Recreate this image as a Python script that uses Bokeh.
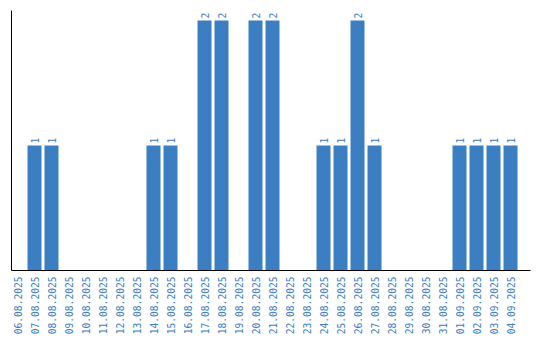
from bokeh.plotting import figure
from bokeh.models import Range1d, FixedTicker, ColumnDataSource
from bokeh.embed import file_html
from bokeh.resources import INLINE
from bokeh.core.properties import value
import math

dates = ["06.08.2025", "07.08.2025", "08.08.2025", "09.08.2025", "10.08.2025",
         "11.08.2025", "12.08.2025", "13.08.2025", "14.08.2025", "15.08.2025",
         "16.08.2025", "17.08.2025", "18.08.2025", "19.08.2025", "20.08.2025",
         "21.08.2025", "22.08.2025", "23.08.2025", "24.08.2025", "25.08.2025",
         "26.08.2025", "27.08.2025", "28.08.2025", "29.08.2025", "30.08.2025",
         "31.08.2025", "01.09.2025", "02.09.2025", "03.09.2025", "04.09.2025"]
counts = [0, 1, 1, 0, 0, 0, 0, 0, 1, 1, 0, 2, 2, 0, 2, 2, 0, 0, 1, 1, 2, 1,
          0, 0, 0, 0, 1, 1, 1, 1]

BLUE = "#3b7ec1"
FONT = "DejaVu Sans Mono"

idx = list(range(len(dates)))
src = ColumnDataSource(dict(x=idx, top=counts))
nz = [i for i in idx if counts[i] > 0]
lab = ColumnDataSource(dict(x=nz, y=[counts[i] for i in nz],
                            t=[str(counts[i]) for i in nz]))

p = figure(width=540, height=340, output_backend="svg", toolbar_location=None,
           x_range=Range1d(-0.353, 30.176), y_range=Range1d(0, 2.08),
           min_border_left=11, min_border_right=10, min_border_top=10,
           min_border_bottom=70)
p.outline_line_color = None
p.xgrid.grid_line_color = None
p.ygrid.grid_line_color = None

p.vbar(x="x", top="top", width=14 / 17, source=src, fill_color=BLUE,
       line_color=None)
p.text(x="x", y="y", text="t", source=lab, angle=math.pi / 2,
       text_align="left", text_baseline="middle", y_offset=-2,
       text_color=BLUE, text_font=value(FONT), text_font_size="9.6px")

xa = p.xaxis[0]
xa.ticker = FixedTicker(ticks=idx)
xa.major_label_overrides = {i: d for i, d in enumerate(dates)}
xa.major_label_orientation = math.pi / 2
xa.major_tick_line_color = None
xa.minor_tick_line_color = None
xa.major_tick_out = 0
xa.major_tick_in = 0
xa.major_label_standoff = 6
xa.major_label_text_color = BLUE
xa.major_label_text_font = FONT
xa.major_label_text_font_size = "9.6px"
xa.axis_line_color = "black"

ya = p.yaxis[0]
ya.ticker = FixedTicker(ticks=[])
ya.major_tick_line_color = None
ya.minor_tick_line_color = None
ya.major_tick_out = 0
ya.major_label_standoff = 0
ya.axis_line_color = "black"

open("out.html", "w").write(file_html(p, INLINE))
